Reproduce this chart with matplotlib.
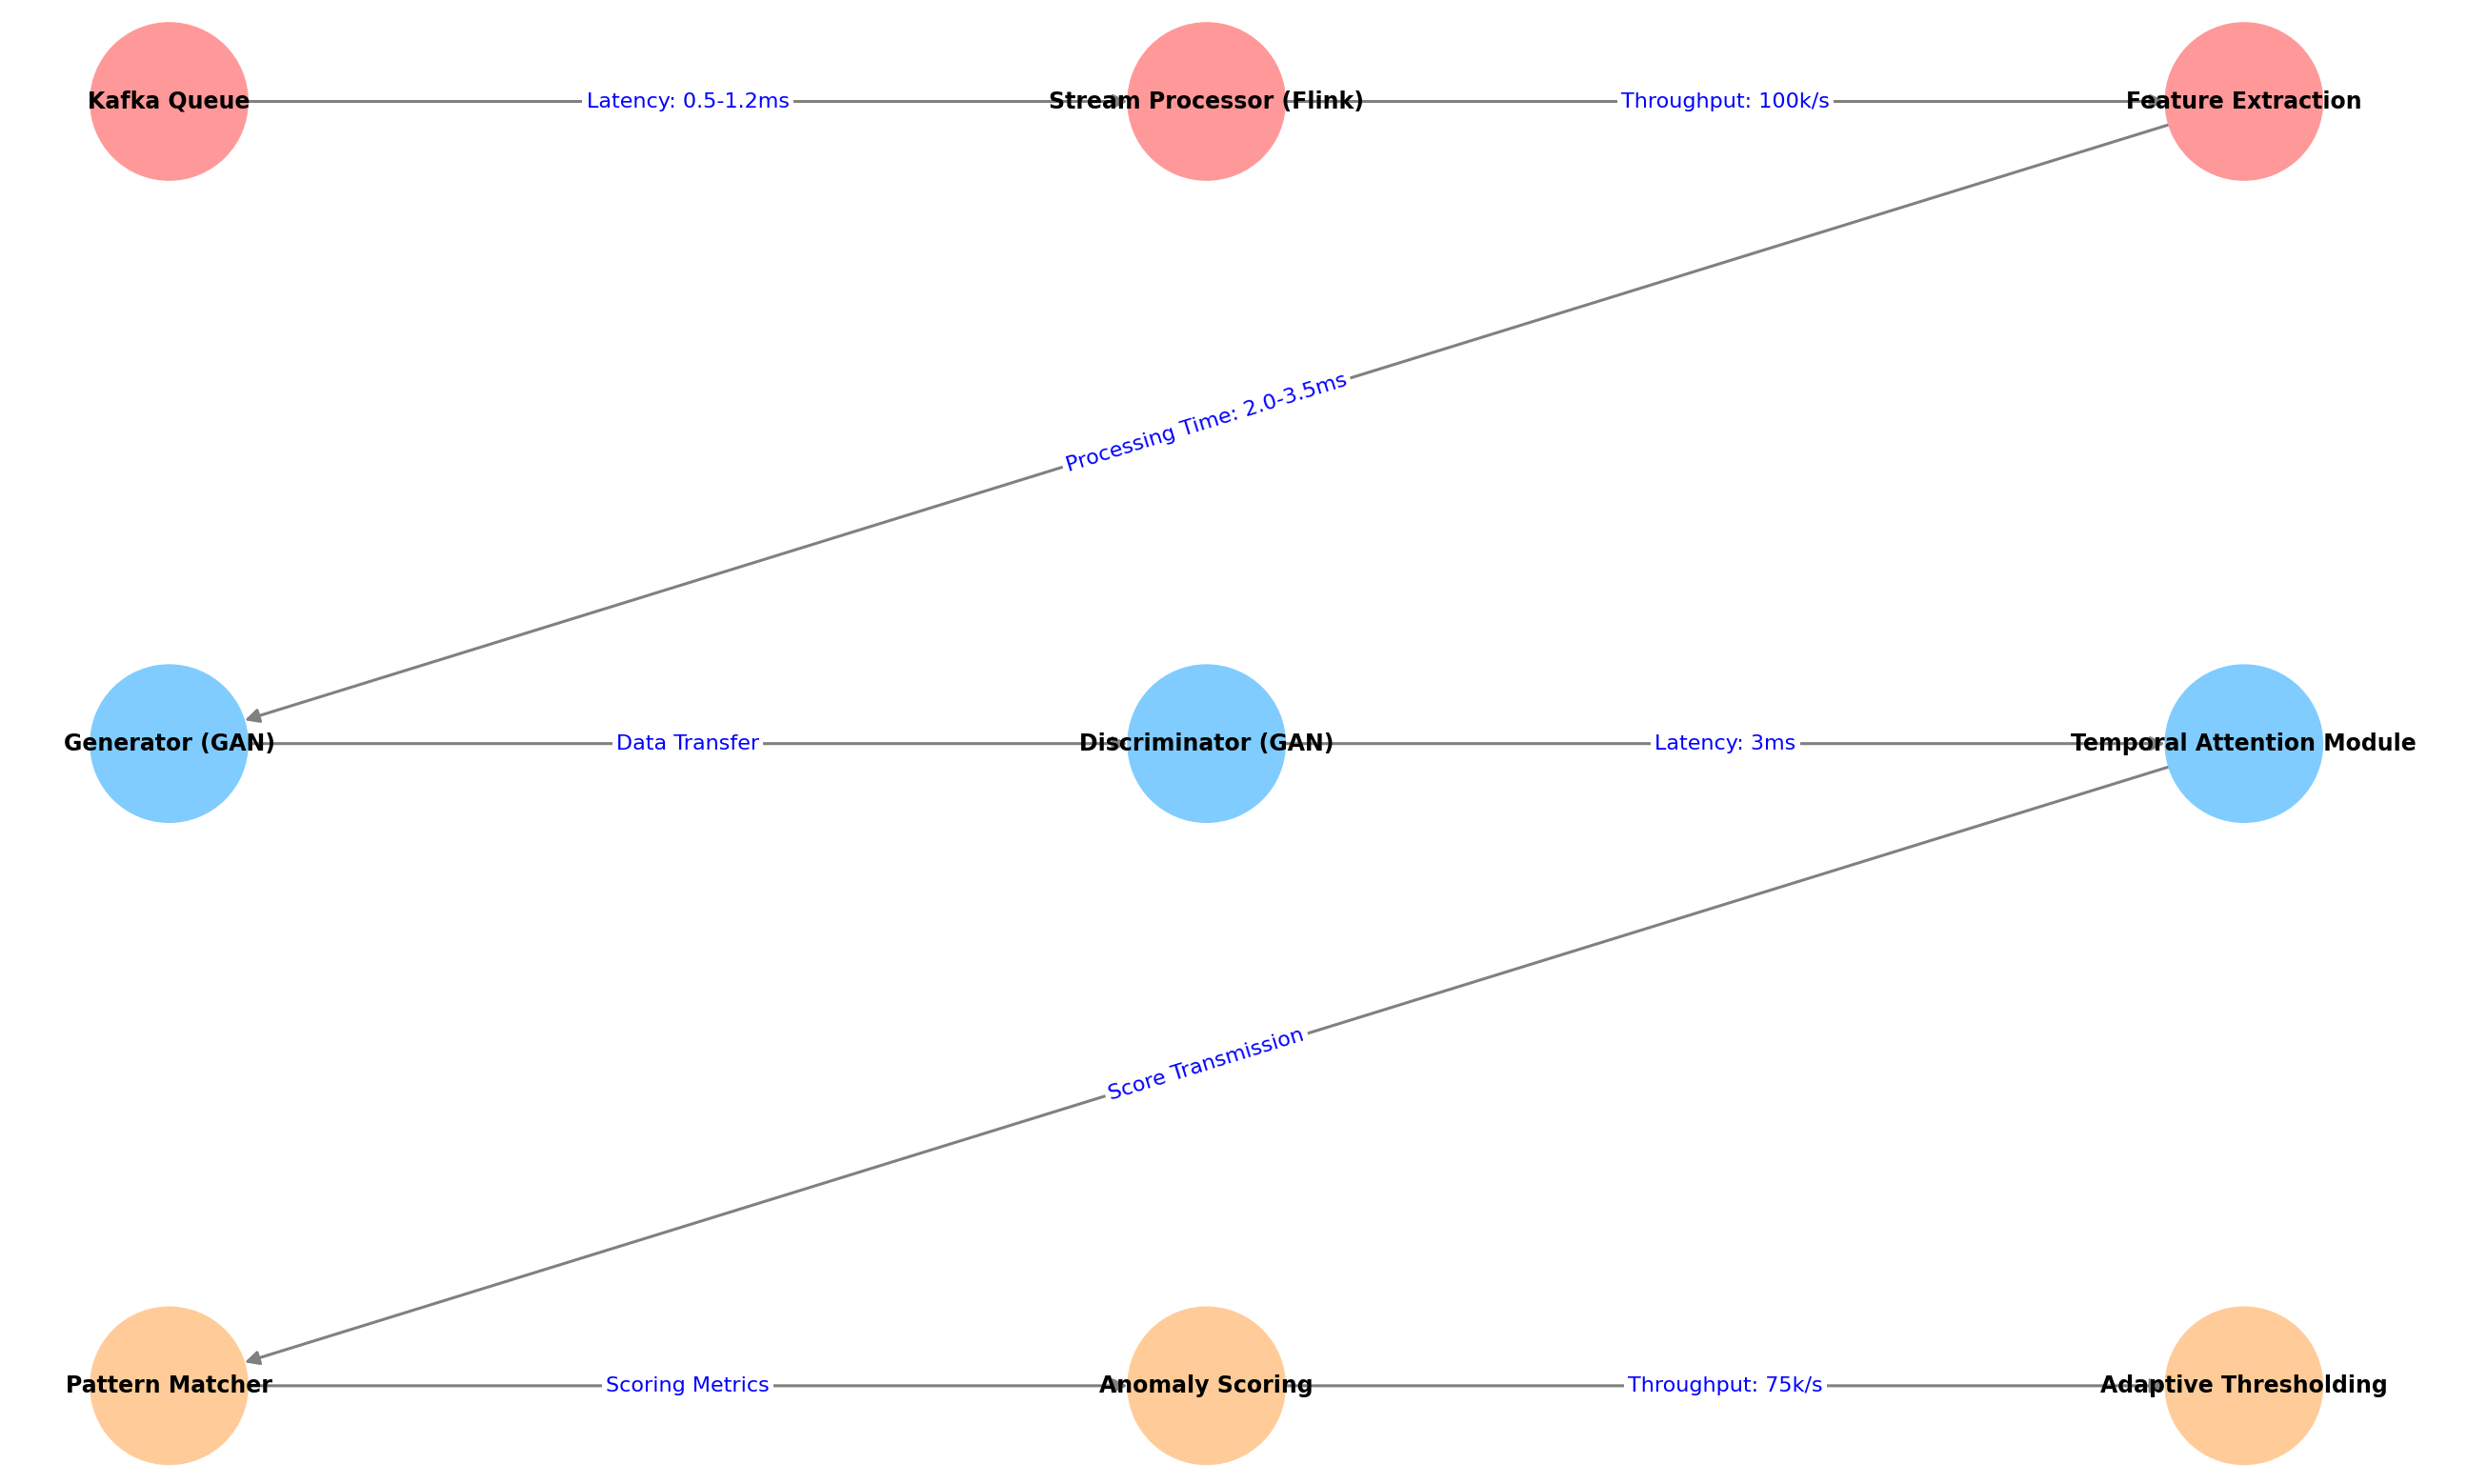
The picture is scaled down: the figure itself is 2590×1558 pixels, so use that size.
import numpy as np
import matplotlib.pyplot as plt

# node layout: 3 rows x 3 columns
nodes = ["Kafka Queue", "Stream Processor (Flink)", "Feature Extraction",
         "Generator (GAN)", "Discriminator (GAN)", "Temporal Attention Module",
         "Pattern Matcher", "Anomaly Scoring", "Adaptive Thresholding"]
node_col = [0, 1, 2, 0, 1, 2, 0, 1, 2]
node_row = [2, 2, 2, 1, 1, 1, 0, 0, 0]
node_colors = ["#ff9999"] * 3 + ["#80ccff"] * 3 + ["#ffcc99"] * 3

edge_src = [0, 1, 2, 3, 4, 5, 6, 7]
edge_dst = [1, 2, 3, 4, 5, 6, 7, 8]
edge_labels = ["Latency: 0.5-1.2ms", "Throughput: 100k/s", "Processing Time: 2.0-3.5ms",
               "Data Transfer", "Latency: 3ms", "Score Transmission",
               "Scoring Metrics", "Throughput: 75k/s"]

fig = plt.figure(figsize=(25.9, 15.58), dpi=100)
ax = fig.add_axes([0, 0, 1, 1])
ax.set_xlim(-0.163, 2.215)
ax.set_ylim(-0.153, 2.158)
ax.axis("off")

x = np.array(node_col, dtype=float)
y = np.array(node_row, dtype=float)

ax.scatter(x, y, s=14400, c=node_colors, zorder=2, edgecolors="none")

fig.canvas.draw()
r_px = 83  # circle radius in pixels
for s, d, lab in zip(edge_src, edge_dst, edge_labels):
    p0 = ax.transData.transform((x[s], y[s]))
    p1 = ax.transData.transform((x[d], y[d]))
    v = p1 - p0
    u = v / np.hypot(*v)
    a = ax.transData.inverted().transform(p0 + u * r_px)
    b = ax.transData.inverted().transform(p1 - u * r_px)
    ax.annotate("", xy=b, xytext=a,
                arrowprops=dict(arrowstyle="-|>", color="gray", lw=2.2,
                                mutation_scale=22, shrinkA=0, shrinkB=0), zorder=1)
    ang = np.degrees(np.arctan2(v[1], v[0]))
    if ang > 90:
        ang -= 180
    if ang < -90:
        ang += 180
    mx, my = (x[s] + x[d]) / 2, (y[s] + y[d]) / 2
    ax.text(mx, my, lab, color="blue", fontsize=16, ha="center", va="center",
            rotation=ang, rotation_mode="anchor",
            bbox=dict(facecolor="white", edgecolor="none", pad=3), zorder=3)

for xi, yi, name in zip(x, y, nodes):
    ax.text(xi, yi, name, fontsize=17, fontweight="bold", ha="center", va="center", zorder=4)

fig.savefig("out.png", dpi=100)
